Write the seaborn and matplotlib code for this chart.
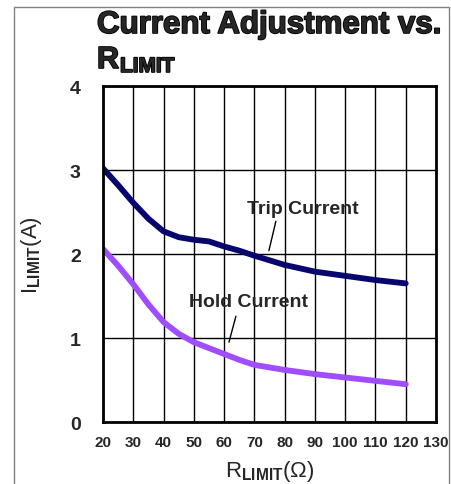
import matplotlib
matplotlib.use("Agg")
import matplotlib.pyplot as plt
import matplotlib.patheffects as pe
import seaborn as sns
import pandas as pd
from matplotlib.lines import Line2D

# R_LIMIT (ohm) and currents (A)
r_limit = [20, 25, 30, 35, 40, 45, 50, 55, 60, 65, 70, 80, 90, 100, 110, 120]
trip_current = [3.02, 2.82, 2.61, 2.42, 2.27, 2.20, 2.17, 2.15, 2.09, 2.04, 1.98, 1.87, 1.79, 1.74, 1.69, 1.65]
hold_current = [2.06, 1.86, 1.64, 1.40, 1.19, 1.05, 0.95, 0.88, 0.81, 0.74, 0.68, 0.62, 0.57, 0.53, 0.49, 0.45]

x_ticks = [20, 30, 40, 50, 60, 70, 80, 90, 100, 110, 120, 130]
y_ticks = [0, 1, 2, 3, 4]

trip_color = "#06066e"
hold_color = "#a04cff"

sns.set_style("white")
plt.rcParams['font.family'] = ['Liberation Sans', 'DejaVu Sans']
plt.rcParams['mathtext.fontset'] = 'custom'
plt.rcParams['mathtext.rm'] = 'Liberation Sans'
plt.rcParams['mathtext.bf'] = 'Liberation Sans:bold'

df = pd.DataFrame({"R": r_limit, "Trip": trip_current, "Hold": hold_current})

fig = plt.figure(figsize=(4.51, 4.85), dpi=100)
ax = fig.add_axes([0.2284, 0.1278, 0.7384, 0.6928])

sns.lineplot(data=df, x="R", y="Trip", ax=ax, color=trip_color, linewidth=4.2)
sns.lineplot(data=df, x="R", y="Hold", ax=ax, color=hold_color, linewidth=4.2)

ax.set_xlim(20, 130)
ax.set_ylim(0, 4)
ax.set_xticks(x_ticks)
ax.set_yticks(y_ticks)
ax.grid(True, color="black", linewidth=1.0)
ax.tick_params(axis='both', length=0)
ax.tick_params(axis='x', labelsize=11, pad=9)
ax.tick_params(axis='y', labelsize=14, pad=16)
for lab in ax.get_xticklabels() + ax.get_yticklabels():
    lab.set_fontweight('bold')
for sp in ax.spines.values():
    sp.set_color("black")
    sp.set_linewidth(2)

ax.set_xlabel(r"$\mathrm{R}_{\mathbf{LIMIT}}$(Ω)", fontsize=16, labelpad=7)
ax.set_ylabel(r"$\mathrm{I}_{\mathbf{LIMIT}}$(A)", fontsize=16, labelpad=19)

# curve labels with leader lines
ax.text(67.5, 2.54, "Trip Current", fontsize=14, fontweight='bold', va='center')
ax.plot([77.1, 74.8], [2.39, 2.04], color="black", linewidth=1)
ax.text(48.5, 1.44, "Hold Current", fontsize=14, fontweight='bold', va='center')
ax.plot([63.9, 61.6], [1.26, 0.95], color="black", linewidth=1)

# title, drawn heavier with a thin stroke
heavy = [pe.withStroke(linewidth=1.2, foreground="black")]
fig.text(97 / 451, 1 - 34 / 485, "Current Adjustment vs.", fontsize=22.5, fontweight='bold',
         va='baseline', path_effects=heavy)
fig.text(97 / 451, 1 - 69 / 485, "R", fontsize=22, fontweight='bold', va='baseline', path_effects=heavy)
fig.text(120 / 451, 1 - 73 / 485, "LIMIT", fontsize=15, fontweight='bold', va='baseline', path_effects=heavy)

# outer frame (left, top, right)
frame_x = [14 / 451, 14 / 451, 449 / 451, 449 / 451]
frame_y = [0.0, 1 - 8 / 485, 1 - 8 / 485, 0.0]
fig.add_artist(Line2D(frame_x, frame_y, color="#808080", linewidth=1, transform=fig.transFigure))

fig.savefig("out.png", dpi=100)
